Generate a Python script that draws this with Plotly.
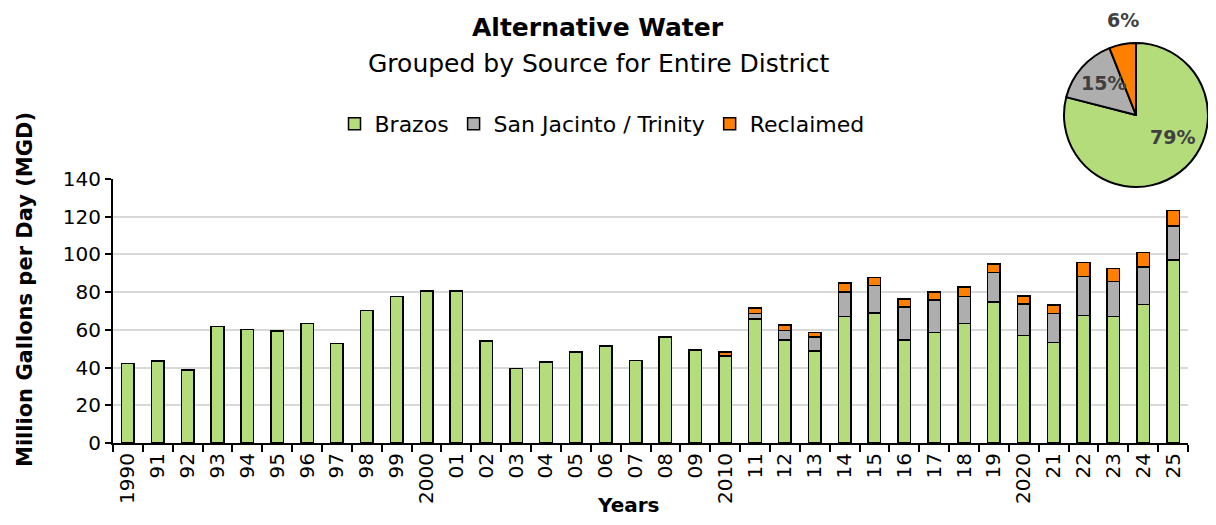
import plotly.graph_objects as go

# The page adds an 8px body margin; figure is sized to fit the window.
OFF = 8
W, H = 1216 - 2 * OFF, 525 - 2 * OFF


def fx(px):
    return (px - OFF) / W


def fy(py):
    return 1 - (py - OFF) / H


tick_labels = ["1990", "91", "92", "93", "94", "95", "96", "97", "98", "99",
               "2000", "01", "02", "03", "04", "05", "06", "07", "08", "09",
               "2010", "11", "12", "13", "14", "15", "16", "17", "18", "19",
               "2020", "21", "22", "23", "24", "25"]

brazos = [42.1, 43.4, 38.6, 61.7, 60.3, 59.3, 63.3, 52.7, 70.2, 77.6,
          80.7, 80.6, 54.1, 39.5, 42.9, 48.3, 51.5, 43.7, 56.2, 49.4,
          46.2, 65.8, 54.7, 48.7, 67.2, 68.9, 54.5, 58.5, 63.3, 74.8,
          57.1, 53.2, 67.7, 67.0, 73.5, 97.0]
san_jacinto = [0] * 20 + [0.3, 3.0, 4.9, 7.4, 13.0, 14.7, 17.6, 17.3, 14.3, 15.5,
                          16.6, 15.4, 20.6, 18.7, 19.9, 18.1]
reclaimed = [0] * 20 + [1.8, 2.9, 3.0, 2.6, 4.6, 4.2, 4.2, 4.4, 5.1, 4.6,
                        4.2, 4.6, 7.3, 6.9, 7.6, 8.3]

pie_labels = ["Brazos", "San Jacinto / Trinity", "Reclaimed"]
pie_values = [79, 15, 6]

GREEN = "#B4DC7A"
GRAY = "#AEAEAE"
ORANGE = "#FF8000"
FONT = "DejaVu Sans"

fig = go.Figure()
for name, vals, col in [("Brazos", brazos, GREEN),
                        ("San Jacinto / Trinity", san_jacinto, GRAY),
                        ("Reclaimed", reclaimed, ORANGE)]:
    fig.add_trace(go.Bar(x=tick_labels, y=vals, name=name, width=0.42,
                         marker=dict(color=col, line=dict(color="black", width=1.5))))

fig.add_trace(go.Pie(labels=pie_labels, values=pie_values, sort=False,
                     direction="clockwise", rotation=0, textinfo="none",
                     marker=dict(colors=[GREEN, GRAY, ORANGE], line=dict(color="black", width=2)),
                     domain=dict(x=[fx(1064), 1.0], y=[fy(192), fy(38)]),
                     showlegend=False, hoverinfo="label+percent"))

# plot area in reference pixels
x0, x1, ytop, ybot = 113, 1188, 179, 443

fig.update_layout(
    width=W, height=H,
    margin=dict(l=0, r=0, t=0, b=0),
    paper_bgcolor="white", plot_bgcolor="white",
    barmode="stack",
    font=dict(family=FONT, color="black"),
    xaxis=dict(domain=[fx(x0), fx(x1)], type="category", showline=True, linecolor="black",
               linewidth=2, ticks="outside", tickson="boundaries", ticklen=7, tickwidth=1.5,
               tickcolor="black", tickangle=-90, tickfont=dict(size=20, family=FONT),
               showgrid=False, automargin=False),
    yaxis=dict(domain=[fy(ybot), fy(ytop)], range=[0, 140], dtick=20,
               showline=True, linecolor="black", linewidth=2, ticks="outside", ticklen=6,
               tickwidth=1.5, tickcolor="black", tickfont=dict(size=20, family=FONT),
               showgrid=True, gridcolor="#D9D9D9", gridwidth=2, zeroline=False,
               automargin=False),
    legend=dict(orientation="h", x=fx(602), xanchor="center", y=fy(124), yanchor="middle",
                font=dict(size=22, family=FONT), traceorder="normal",
                bgcolor="rgba(0,0,0,0)"),
    showlegend=True,
)

ann = [
    dict(text="<b>Alternative Water</b>", x=598, y=28, size=25, color="black"),
    dict(text="Grouped by Source for Entire District", x=598, y=63, size=25, color="black"),
    dict(text="<b>Million Gallons per Day (MGD)</b>", x=25, y=290, size=21,
         color="black", angle=-90),
    dict(text="<b>Years</b>", x=628, y=505, size=20, color="black"),
    dict(text="<b>6%</b>", x=1123, y=20, size=19, color="#404040"),
    dict(text="<b>15%</b>", x=1103, y=83, size=19, color="#404040"),
    dict(text="<b>79%</b>", x=1172, y=137, size=19, color="#404040"),
]
for a in ann:
    fig.add_annotation(text=a["text"], xref="paper", yref="paper", x=fx(a["x"]), y=fy(a["y"]),
                       xanchor="center", yanchor="middle", showarrow=False,
                       textangle=a.get("angle", 0),
                       font=dict(size=a["size"], color=a["color"], family=FONT))

fig.write_html("out.html")
